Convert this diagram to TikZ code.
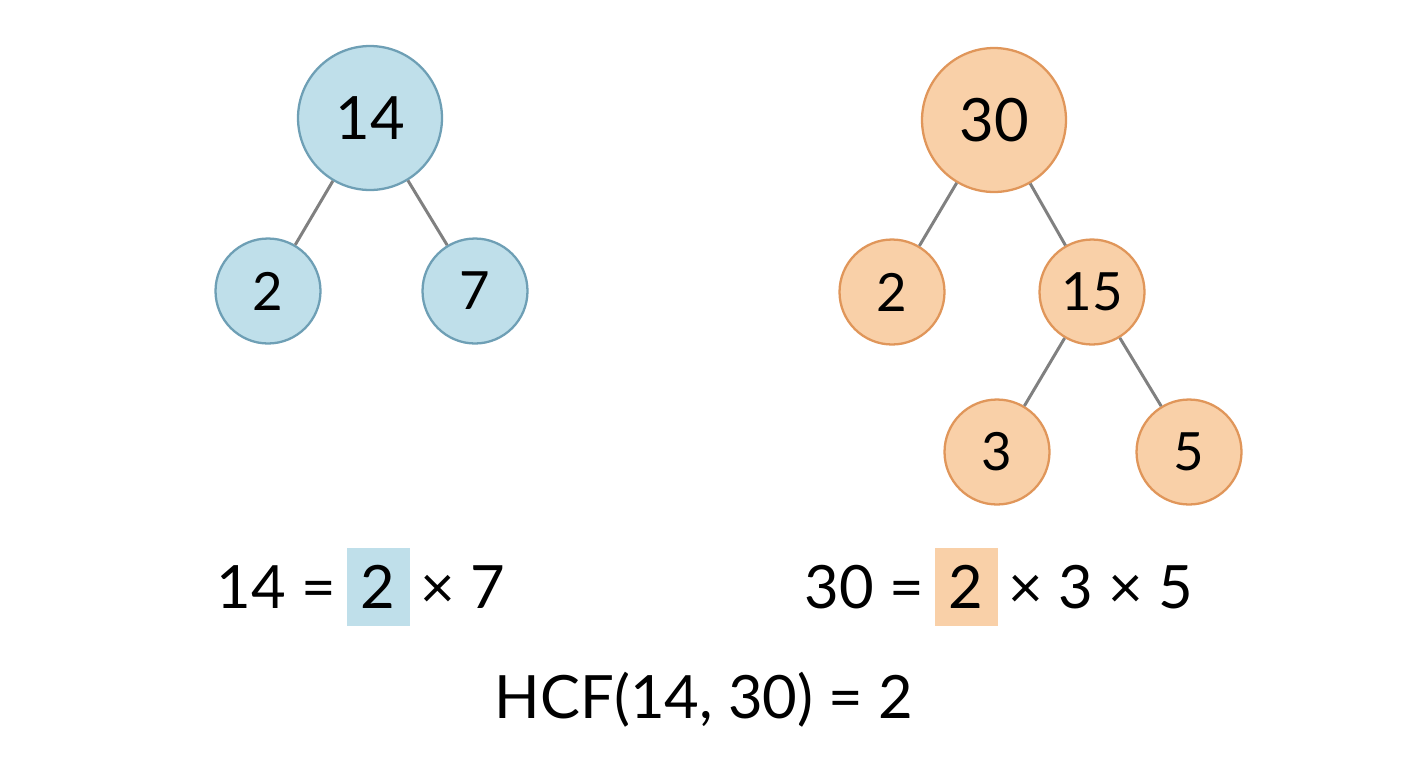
\documentclass[tikz,border=0pt]{standalone}
\usepackage{fontspec}
\setmainfont{Lato}
\usetikzlibrary{positioning}
\definecolor{bluefill}{HTML}{BFDFEA}
\definecolor{blueline}{HTML}{6E9FB5}
\definecolor{orangefill}{HTML}{F9D0A8}
\definecolor{orangeline}{HTML}{E0965A}
\definecolor{branch}{HTML}{808080}
\begin{document}
\begin{tikzpicture}[x=0.02cm,y=-0.02cm,
	big/.style={draw,shape=circle,line width=1.3pt,minimum size=2.88cm,inner sep=0pt,font=\fontsize{34}{40}\selectfont},
	small/.style={draw,shape=circle,line width=1.3pt,minimum size=2.1cm,inner sep=0pt,font=\fontsize{30}{36}\selectfont},
	blue/.style={fill=bluefill,draw=blueline},
	orange/.style={fill=orangefill,draw=orangeline},
	eq/.style={inner sep=0pt,font=\fontsize{34}{40}\selectfont},
	hl/.style={eq,minimum width=1.26cm,minimum height=1.56cm},
	br/.style={draw=branch,line width=1.7pt}]
	\useasboundingbox (0,0) rectangle (1408,768);
	% left tree
	\node (ta) [big,blue] at (370,118) {14};
	\node (ta2) [small,blue] at (268,291) {2};
	\node (ta7) [small,blue] at (475,291) {7};
	\draw[br] (ta) -- (ta2);
	\draw[br] (ta) -- (ta7);
	% right tree
	\node (tb) [big,orange] at (994,120) {30};
	\node (tb2) [small,orange] at (892,292) {2};
	\node (tb15) [small,orange] at (1092,292) {15};
	\node (tb3) [small,orange] at (997,452) {3};
	\node (tb5) [small,orange] at (1189,452) {5};
	\draw[br] (tb) -- (tb2);
	\draw[br] (tb) -- (tb15);
	\draw[br] (tb15) -- (tb3);
	\draw[br] (tb15) -- (tb5);
	% equations
	\node (hla) [hl,fill=bluefill] at (378,587) {2};
	\node (eqal) [eq,anchor=east] at ([xshift=-0.2cm]hla.west) {14 =};
	\node (eqar) [eq,anchor=west] at ([xshift=0.2cm]hla.east) {× 7};
	\node (hlb) [hl,fill=orangefill] at (966,587) {2};
	\node (eqbl) [eq,anchor=east] at ([xshift=-0.2cm]hlb.west) {30 =};
	\node (eqbr) [eq,anchor=west] at ([xshift=0.2cm]hlb.east) {× 3 × 5};
	\node (hcf) [eq] at (704,700) {HCF(14, 30) = 2};
\end{tikzpicture}
\end{document}
